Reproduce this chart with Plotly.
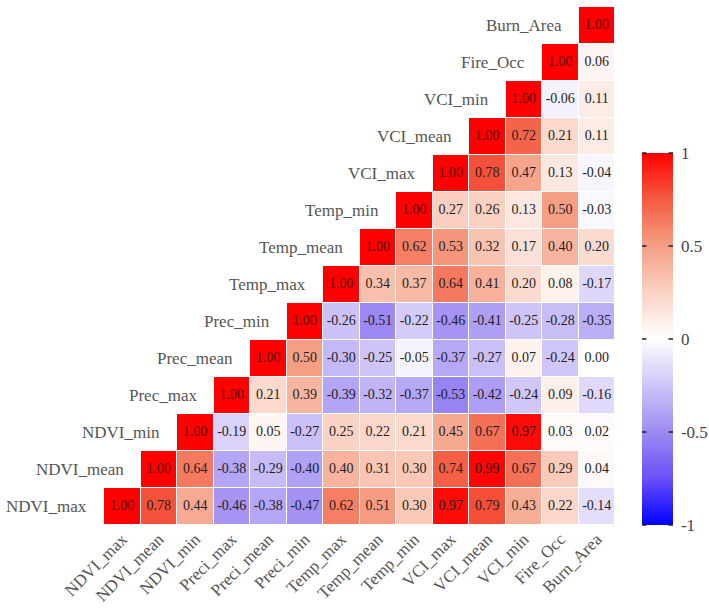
import plotly.graph_objects as go

row_labels = ["NDVI_max", "NDVI_mean", "NDVI_min", "Prec_max", "Prec_mean", "Prec_min",
              "Temp_max", "Temp_mean", "Temp_min", "VCI_max", "VCI_mean", "VCI_min",
              "Fire_Occ", "Burn_Area"]
col_labels = ["NDVI_max", "NDVI_mean", "NDVI_min", "Preci_max", "Preci_mean", "Preci_min",
              "Temp_max", "Temp_mean", "Temp_min", "VCI_max", "VCI_mean", "VCI_min",
              "Fire_Occ", "Burn_Area"]

# each row starts at its diagonal cell (upper-right triangle)
r_ndvi_max = [1.00, 0.78, 0.44, -0.46, -0.38, -0.47, 0.62, 0.51, 0.30, 0.97, 0.79, 0.43, 0.22, -0.14]
r_ndvi_mean = [1.00, 0.64, -0.38, -0.29, -0.40, 0.40, 0.31, 0.30, 0.74, 0.99, 0.67, 0.29, 0.04]
r_ndvi_min = [1.00, -0.19, 0.05, -0.27, 0.25, 0.22, 0.21, 0.45, 0.67, 0.97, 0.03, 0.02]
r_prec_max = [1.00, 0.21, 0.39, -0.39, -0.32, -0.37, -0.53, -0.42, -0.24, 0.09, -0.16]
r_prec_mean = [1.00, 0.50, -0.30, -0.25, -0.05, -0.37, -0.27, 0.07, -0.24, 0.00]
r_prec_min = [1.00, -0.26, -0.51, -0.22, -0.46, -0.41, -0.25, -0.28, -0.35]
r_temp_max = [1.00, 0.34, 0.37, 0.64, 0.41, 0.20, 0.08, -0.17]
r_temp_mean = [1.00, 0.62, 0.53, 0.32, 0.17, 0.40, 0.20]
r_temp_min = [1.00, 0.27, 0.26, 0.13, 0.50, -0.03]
r_vci_max = [1.00, 0.78, 0.47, 0.13, -0.04]
r_vci_mean = [1.00, 0.72, 0.21, 0.11]
r_vci_min = [1.00, -0.06, 0.11]
r_fire_occ = [1.00, 0.06]
r_burn_area = [1.00]

rows = [r_ndvi_max, r_ndvi_mean, r_ndvi_min, r_prec_max, r_prec_mean, r_prec_min,
        r_temp_max, r_temp_mean, r_temp_min, r_vci_max, r_vci_mean, r_vci_min,
        r_fire_occ, r_burn_area]

cbar_ticks = [-1, -0.5, 0, 0.5, 1]
cbar_ticktext = ["-1", "-0.5", "0", "0.5", "1"]

n = len(row_labels)
z = []
for i, r in enumerate(rows):
    z.append([None] * i + r)

tx, ty, tt, tc = [], [], [], []
for i, r in enumerate(rows):
    for k, v in enumerate(r):
        j = i + k
        tx.append(j)
        ty.append(i)
        tt.append(f"{v:.2f}")
        tc.append("#5a0000" if j == i else "#1e1e1e")

serif = "Liberation Serif"

colorscale = [
    [0.000, "rgb(0,0,255)"],
    [0.125, "rgb(105,80,248)"],
    [0.250, "rgb(158,138,242)"],
    [0.375, "rgb(206,196,248)"],
    [0.500, "rgb(255,255,255)"],
    [0.625, "rgb(250,210,196)"],
    [0.750, "rgb(245,158,132)"],
    [0.875, "rgb(244,92,66)"],
    [1.000, "rgb(255,0,0)"],
]

L, R, T, B = 104, 94, 7, 83
plot_w = 709 - L - R
plot_h = 608 - T - B
cb_x, cb_len, cb_y, cb_thick = (642 - L) / plot_w, 0.718, 0.359, 31

fig = go.Figure()
fig.add_trace(go.Heatmap(
    z=z, x=list(range(n)), y=list(range(n)),
    zmin=-1, zmax=1,
    colorscale=colorscale,
    xgap=1, ygap=1, hoverongaps=False,
    colorbar=dict(
        x=cb_x, xanchor="left", xref="paper", xpad=0, ypad=0,
        y=cb_y, yanchor="middle", len=cb_len, lenmode="fraction",
        thickness=cb_thick, outlinewidth=0,
        tickvals=cbar_ticks, ticktext=cbar_ticktext,
        ticks="outside", ticklen=5, tickcolor="rgba(0,0,0,0)",
        tickfont=dict(family=serif, size=17, color="#444"),
    ),
))
fig.add_trace(go.Scatter(
    x=tx, y=ty, text=tt, mode="text",
    textfont=dict(family=serif, size=14, color=tc),
    hoverinfo="skip", showlegend=False,
))

for i, lab in enumerate(row_labels):
    fig.add_annotation(x=i - 0.5, y=i, text=lab, showarrow=False,
                       xanchor="right", yanchor="middle", xshift=-15,
                       font=dict(family=serif, size=17, color="#555"))

# inside tick dashes on both edges of the colour bar (drawn as arrow-less annotation lines)
cb_bottom = cb_y - cb_len / 2
cb_right = cb_x + cb_thick / plot_w
for v in cbar_ticks:
    yy = cb_bottom + (v + 1) / 2 * cb_len
    for xx, dx in ((cb_x, 6), (cb_right, -6)):
        fig.add_annotation(x=xx, y=yy, xref="paper", yref="paper", text="",
                           showarrow=True, arrowhead=0, arrowwidth=1.6,
                           arrowcolor="#222", ax=dx, ay=0, standoff=0, startstandoff=0)

fig.update_layout(
    width=709, height=608,
    margin=dict(l=L, r=R, t=T, b=B, autoexpand=False),
    plot_bgcolor="white", paper_bgcolor="white",
    showlegend=False,
    xaxis=dict(range=[-0.5, n - 0.5], tickvals=list(range(n)), ticktext=col_labels,
               tickangle=-45, showgrid=False, zeroline=False, showline=False,
               tickfont=dict(family=serif, size=17, color="#555"), ticks=""),
    yaxis=dict(range=[-0.5, n - 0.5], showticklabels=False, showgrid=False,
               zeroline=False, showline=False, ticks=""),
)

fig.write_html("out.html")
